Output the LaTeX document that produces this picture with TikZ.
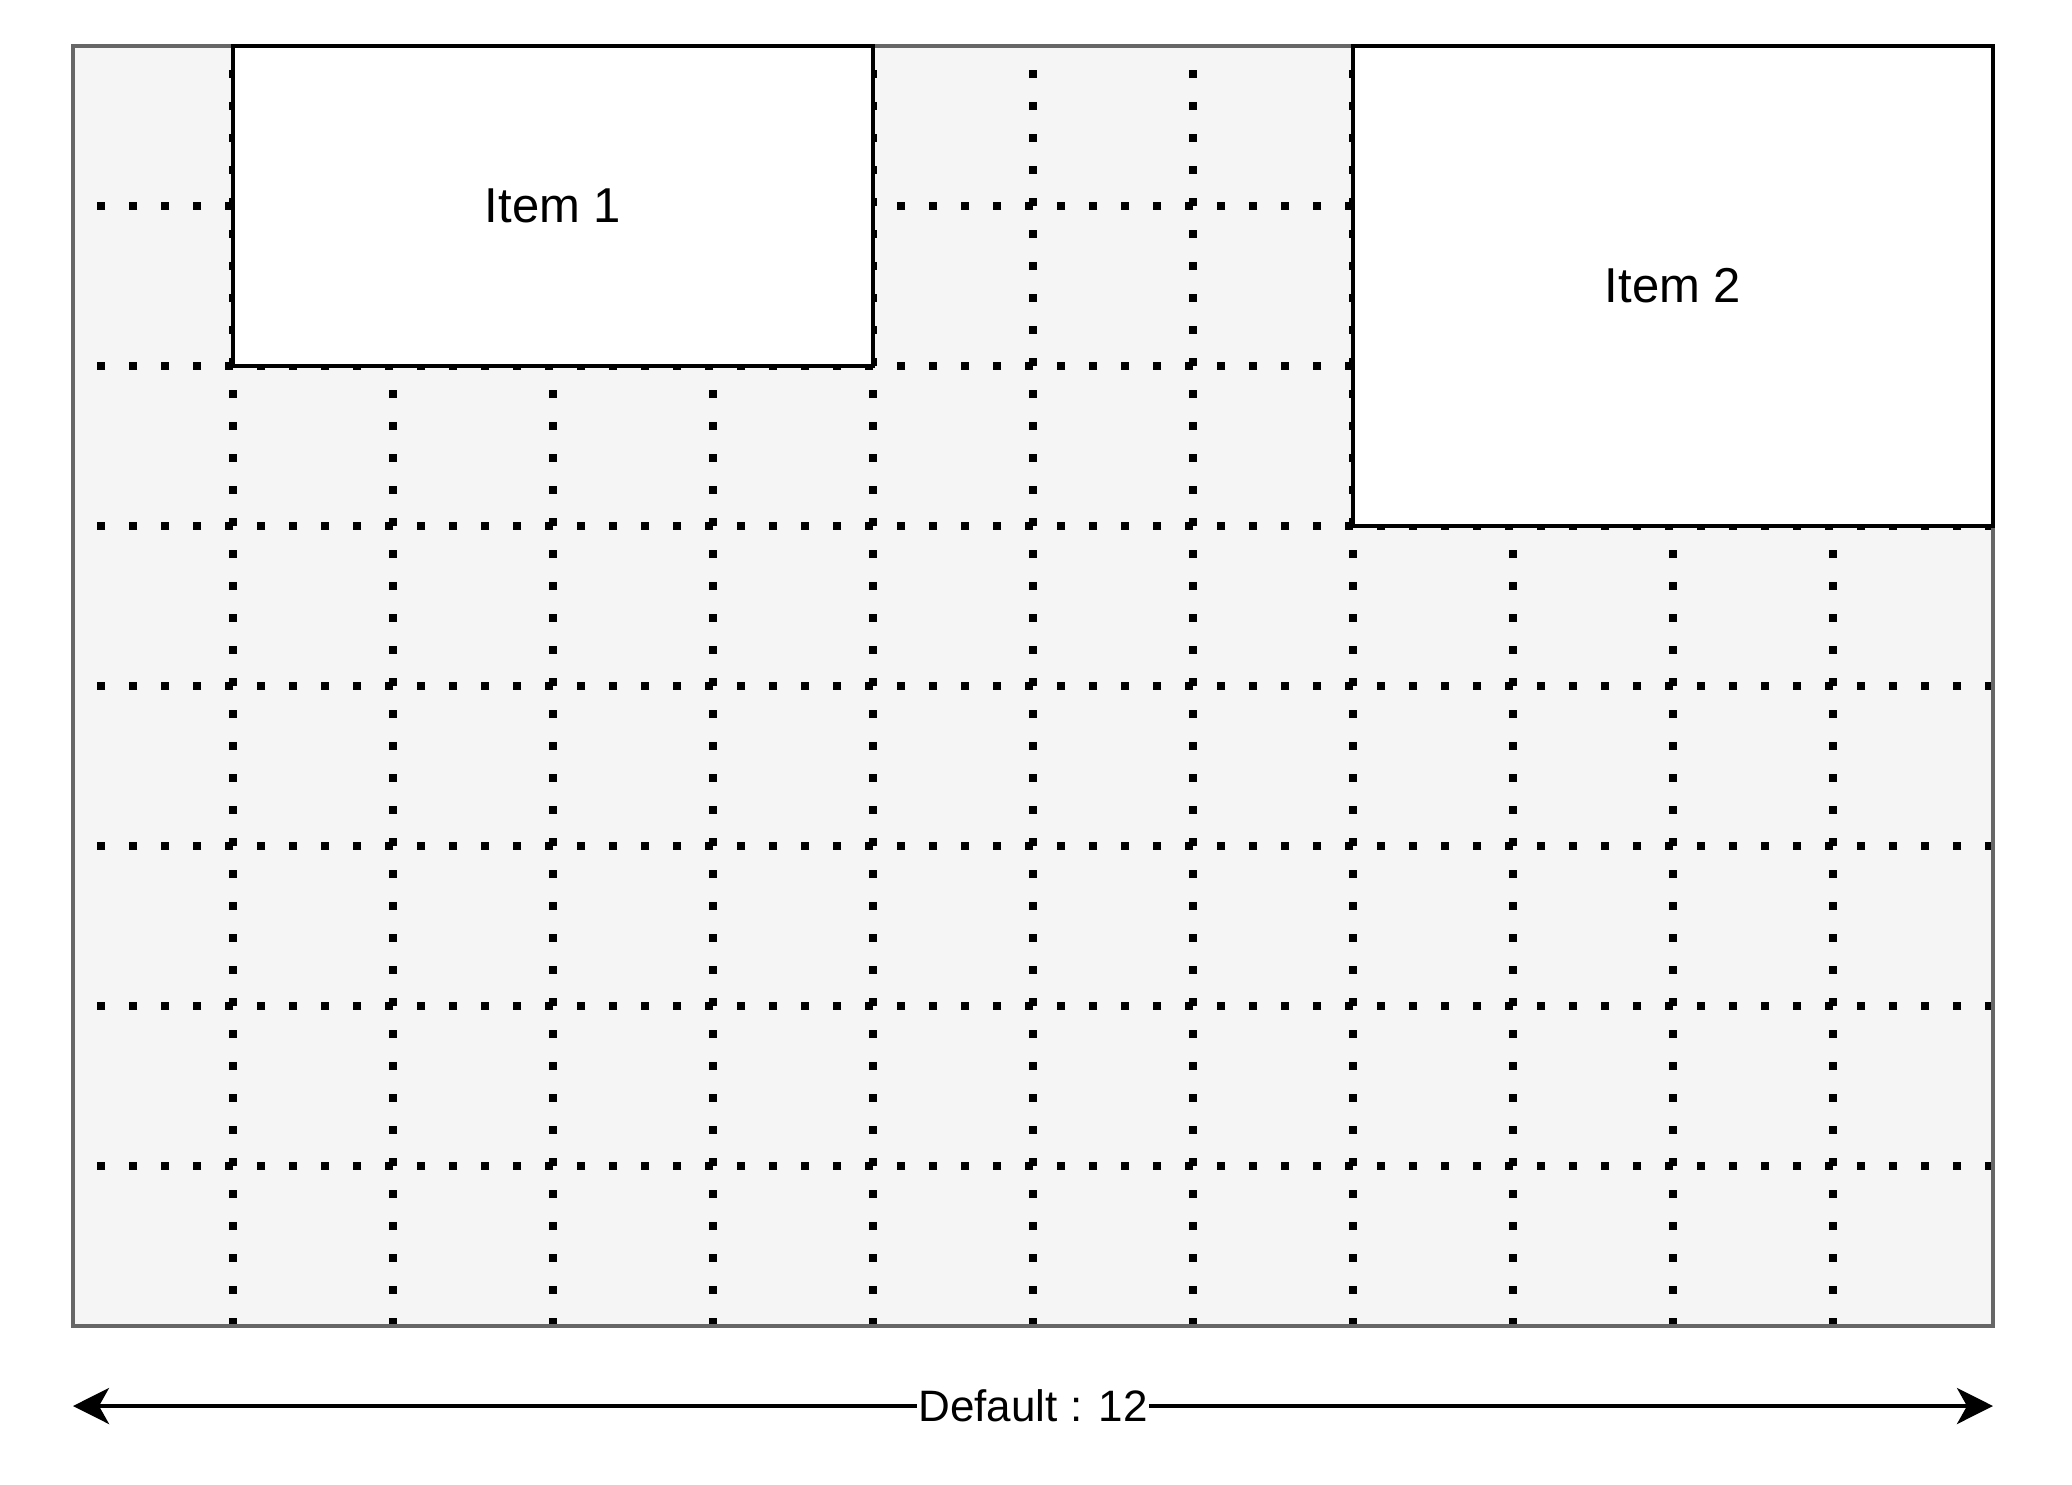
\documentclass[tikz,border=0pt]{standalone}
\usepackage{fontspec}
\setmainfont{Liberation Sans}
\usetikzlibrary{arrows.meta}
\definecolor{panelfill}{HTML}{F5F5F5}
\definecolor{panelline}{HTML}{666666}
\begin{document}
\begin{tikzpicture}[x=1pt,y=-1pt,
  itembox/.style={draw=black, fill=white, line width=4pt, minimum width=640pt, inner sep=0pt, outer sep=0pt, font=\fontsize{49}{58}\selectfont},
  gridline/.style={line width=8pt, dash pattern=on 8pt off 24pt, line cap=butt},
  tipstyle/.style={Stealth[length=36pt,width=36pt,inset=10pt]}
]
\useasboundingbox (0,0) rectangle (2072,1484);
\node[fill=panelfill, minimum width=1920pt, minimum height=1280pt, inner sep=0pt, outer sep=0pt] (panel) at (1033,686) {};
\foreach \y in {206,366,...,1166} \draw[gridline] (1993,\y) -- (73,\y);
\foreach \x in {233,393,...,1833} \draw[gridline] (\x,1326) -- (\x,46);
\draw[panelline, line width=4pt] (panel.north west) rectangle (panel.south east);
\node[itembox, minimum height=320pt] (item1) at (553,206) {Item 1};
\node[itembox, minimum height=480pt] (item2) at (1673,286) {Item 2};
\coordinate (al) at (73,1406);
\coordinate (ar) at (1993,1406);
\draw[line width=4pt, {Stealth[length=36pt,width=36pt,inset=10pt]}-{Stealth[length=36pt,width=36pt,inset=10pt]}] (al) -- (ar) node[midway, fill=white, inner sep=1pt, font=\fontsize{44}{53}\selectfont] (dlabel) {Default : 12};
\end{tikzpicture}
\end{document}
